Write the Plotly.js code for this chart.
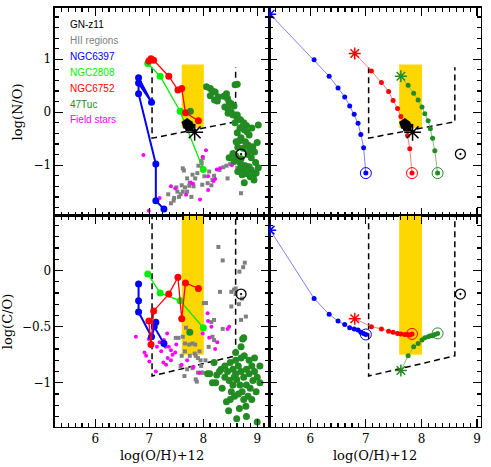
<!DOCTYPE html>
<html>
<head>
<meta charset="utf-8">
<script src="https://cdn.plot.ly/plotly-3.0.1.min.js"></script>
<style>
  body { margin: 0; background: white; }
  #plotDiv { width: 491px; height: 467px; }
</style>
</head>
<body>
<div id="plotDiv"></div>
<script>
// ---- observed clusters (left panels) ----
var n6397_oh_top = [6.80, 7.04, 6.80, 6.80, 7.12, 7.12, 7.27];
var n6397_no = [0.55, 0.19, 0.65, 0.35, -0.98, -1.67, -1.83];
var n6397_oh_bot = [6.80, 6.80, 6.80, 7.04, 7.12, 7.09, 7.27];
var n6397_co = [-0.12, -0.27, -0.37, -0.59, -0.46, -0.50, -0.65];

var n2808_oh = [6.97, 7.20, 7.57, 8.00];
var n2808_no = [0.92, 0.68, 0.02, -1.08];
var n2808_co = [-0.03, -0.20, -0.27, -0.51];

var n6752_oh = [6.99, 7.03, 7.08, 7.36, 7.53, 7.60, 7.67, 7.91];
var n6752_no = [0.97, 1.01, 0.98, 0.68, 0.42, 0.45, -0.01, -0.16];
var n6752_co = [-0.45, -0.66, -0.36, -0.21, -0.06, -0.43, -0.11, -0.16];

var tuc_oh_top = [7.76, 8.06, 8.13, 8.17, 8.13, 8.22, 8.28, 8.26, 8.21, 8.43, 8.38, 8.45, 8.59, 8.63, 8.48, 8.52,
  8.57, 8.40, 8.46, 8.52, 8.46, 8.55, 8.63, 8.63, 8.59, 8.69, 8.72, 8.76, 8.63, 8.81, 8.85, 8.67, 8.70, 8.78, 8.61,
  9.02, 9.00, 8.75, 8.80, 8.68, 8.90, 8.83, 8.92, 8.74, 8.64, 8.86, 8.95, 8.48, 8.57, 8.67, 8.72, 8.78, 8.85, 8.89,
  8.76, 8.81, 8.93, 8.94, 8.76, 8.69, 8.89, 8.83, 8.60, 8.70, 8.97, 9.02, 8.87, 8.98, 8.64, 8.72, 8.55];
var tuc_no = [0.02, 0.48, 0.45, 0.40, 0.31, 0.38, 0.29, 0.21, 0.23, 0.35, 0.30, 0.26, 0.52, 0.53, 0.19, 0.16,
  0.12, 0.10, 0.05, 0.00, -0.02, -0.05, -0.05, -0.11, -0.20, -0.14, -0.28, -0.33, -0.39, -0.37, -0.43, -0.54, -0.48, -0.56, -0.56,
  -0.24, -0.57, -0.20, -0.25, -0.30, -0.30, -0.62, -0.65, -0.68, -0.66, -0.72, -0.75, -0.86, -0.92, -0.94, -1.00, -1.01, -1.03, -1.09,
  -1.09, -1.16, -1.20, -1.28, -1.33, -1.05, -0.86, -0.80, -0.82, -0.88, -0.95, -1.05, -1.22, -1.15, -1.12, -1.18, -0.78];

var tuc_oh_bot = [7.75, 8.73, 8.60, 8.75, 8.20, 8.08, 8.12, 8.23, 8.17, 8.30, 8.45, 8.76, 8.85, 8.43, 8.50, 8.79,
  8.62, 9.00, 8.67, 8.40, 8.50, 8.55, 8.60, 8.65, 8.70, 8.75, 8.80, 8.85, 8.90, 8.95, 9.00, 9.05, 8.48, 8.55,
  8.62, 8.68, 8.72, 8.80, 8.87, 8.92, 8.98, 8.52, 8.58, 8.65, 8.75, 8.83, 8.90, 8.40, 8.35, 8.60, 8.70, 8.95,
  9.05, 8.57, 8.33, 8.80, 8.70, 8.25, 8.47];
var tuc_co = [-0.55, -0.61, -0.73, -0.60, -0.82, -0.92, -0.92, -1.00, -1.00, -0.90, -0.90, -0.76, -0.80, -1.17, -1.15, -1.21,
  -1.32, -1.35, -1.23, -0.85, -0.82, -0.88, -0.92, -0.85, -0.90, -0.95, -0.88, -0.92, -0.85, -0.90, -0.95, -1.00, -0.98, -1.02,
  -0.97, -1.02, -1.08, -1.02, -1.05, -0.98, -1.08, -1.08, -1.12, -1.10, -1.15, -1.12, -1.15, -0.95, -1.05, -0.80, -0.78, -0.78,
  -0.85, -0.95, -0.88, -1.30, -0.68, -0.93, -1.25];

var hii_oh_top = [7.62, 7.64, 7.91, 7.96, 7.99, 7.97, 7.89, 8.02, 8.11, 8.17, 8.08, 7.98, 7.74, 7.62, 7.46, 7.45,
  7.80, 7.70, 7.85, 7.75, 7.60, 7.66, 7.52, 7.58, 7.70, 7.55, 7.35, 7.50, 7.82, 8.20, 8.30, 8.37, 8.43, 8.50,
  8.57, 8.62, 8.68, 8.70, 8.15, 7.40, 7.78, 8.45, 8.63];
var hii_no = [-1.06, -1.10, -1.01, -0.92, -0.87, -0.96, -1.15, -1.21, -1.12, -1.28, -1.34, -1.37, -1.39, -1.50, -1.62, -1.67,
  -1.18, -1.25, -1.25, -1.33, -1.38, -1.42, -1.50, -1.55, -1.50, -1.60, -1.55, -1.42, -1.40, -1.20, -1.09, -1.04, -1.01, -0.98,
  -0.96, -0.93, -0.98, -1.53, -1.38, -1.72, -1.60, -1.25, -1.05];

var hii_oh_bot = [8.28, 8.36, 8.77, 8.67, 8.74, 8.31, 8.52, 8.57, 8.60, 8.52, 8.70, 8.79, 8.05, 8.01, 8.15, 8.20,
  8.36, 8.17, 8.20, 8.10, 7.86, 7.96, 7.99, 7.88, 7.90, 8.04, 7.68, 7.49, 7.54, 7.62, 7.66, 7.74, 7.80, 7.85,
  7.60, 7.66, 7.75, 7.84, 7.93, 7.95, 7.80, 7.70, 7.65, 7.86, 7.90, 7.96, 7.58, 8.66, 8.72, 8.60];
var hii_co = [0.21, 0.09, 0.07, -0.01, 0.03, -0.19, -0.19, -0.17, -0.16, -0.32, -0.44, -0.41, -0.29, -0.29, -0.46, -0.44,
  -0.52, -0.59, -0.62, -0.68, -0.76, -0.85, -0.91, -0.99, -0.78, -0.80, -0.51, -0.60, -0.60, -0.59, -0.65, -0.66, -0.65, -0.66,
  -0.76, -0.72, -0.76, -0.74, -0.72, -0.80, -0.87, -0.88, -0.94, -0.97, -0.91, -0.91, -0.85, -0.30, -0.25, -0.21];

var field_oh_top = [6.89, 8.05, 7.99, 7.98, 8.25, 8.53, 8.09, 8.19, 8.22, 7.81, 7.77, 8.09, 7.40, 7.68, 7.94, 7.19,
  6.99, 7.48, 8.31];
var field_no = [-0.81, -0.72, -0.84, -1.04, -1.08, -1.00, -1.21, -1.30, -1.26, -1.35, -1.33, -1.47, -1.40, -1.56, -1.65, -1.62,
  -1.86, -1.44, -1.06];

var field_oh_bot = [6.75, 6.99, 7.33, 7.27, 7.19, 7.30, 7.36, 7.40, 7.43, 7.48, 7.34, 6.94, 6.91, 7.00, 7.14, 7.12,
  7.26, 7.31, 7.40, 8.08, 8.09, 8.15, 8.11, 7.99, 8.26, 8.48, 8.45, 8.22, 7.93, 7.70, 7.60, 7.82, 7.50, 7.22];
var field_co = [-0.59, -0.61, -0.56, -0.62, -0.64, -0.68, -0.68, -0.71, -0.75, -0.73, -0.78, -0.76, -0.73, -0.81, -0.68, -0.90,
  -0.82, -0.84, -0.80, -0.38, -0.45, -0.50, -0.60, -0.56, -0.64, -0.50, -0.52, -0.70, -0.91, -0.80, -0.84, -0.86, -0.66, -0.72];

// GN-z11 and Sun
var gnz_blob_oh = [7.70, 7.74];
var gnz_blob_no = [-0.22, -0.27];
var gnz_star_oh = [7.84];
var gnz_star_no = [-0.38];
var sun_oh = [8.70];
var sun_no = [-0.79];
var sun_co = [-0.21];

// ---- model tracks (right panels) ----
var trk_blue_oh = [5.28, 6.07, 6.34, 6.50, 6.62, 6.71, 6.79, 6.86, 6.91, 6.96, 7.00];
var trk_blue_no = [1.85, 0.99, 0.68, 0.46, 0.29, 0.12, -0.04, -0.21, -0.42, -0.67, -1.15];
var trk_blue_co = [0.36, -0.25, -0.39, -0.45, -0.48, -0.51, -0.52, -0.53, -0.55, -0.56, -0.57];

var trk_red_oh = [6.80, 7.10, 7.28, 7.41, 7.49, 7.57, 7.63, 7.70, 7.75, 7.79, 7.83];
var trk_red_no = [1.11, 0.78, 0.56, 0.39, 0.22, 0.07, -0.08, -0.25, -0.44, -0.69, -1.15];
var trk_red_co = [-0.43, -0.50, -0.52, -0.54, -0.55, -0.56, -0.565, -0.57, -0.57, -0.575, -0.565];

var trk_green_oh = [7.63, 7.76, 7.86, 7.94, 8.01, 8.06, 8.12, 8.16, 8.20, 8.24, 8.29];
var trk_green_no = [0.68, 0.51, 0.36, 0.23, 0.10, -0.03, -0.16, -0.31, -0.49, -0.73, -1.15];
var trk_green_co = [-0.89, -0.76, -0.68, -0.65, -0.62, -0.60, -0.59, -0.58, -0.58, -0.57, -0.56];

// GN-z11 constraints: gold band and dashed region
var band_oh = [7.6, 8.01];
var band_no = [-0.3, 0.9];
var band_co = [-0.75, 0.6];
var box_oh = [7.05, 7.05, 8.6, 8.6];
var box_no = [0.85, -0.49, -0.18, 0.85];
var box_co = [0.6, -0.94, -0.76, 0.6];

var legendNames = ['GN-z11', 'HII regions', 'NGC6397', 'NGC2808', 'NGC6752', '47Tuc', 'Field stars'];
var legendColors = ['black', '#808080', '#0000ff', '#00ee00', '#ff0000', '#228b22', '#ff00ff'];

var data = [];

function pts(x, y, ax, color, size, symbol, lw) {
    data.push({
        x: x, y: y, xaxis: ax[0], yaxis: ax[1],
        mode: 'markers', hoverinfo: 'skip',
        marker: { color: color, size: size, symbol: symbol || 'circle', line: { color: color, width: lw || 0 } }
    });
}

function path(x, y, ax, color, size, lw) {
    data.push({
        x: x, y: y, xaxis: ax[0], yaxis: ax[1],
        mode: size ? 'lines+markers' : 'lines', hoverinfo: 'skip',
        line: { color: color, width: lw },
        marker: { color: color, size: size }
    });
}

function dashbox(x, y, ax) {
    data.push({
        x: x, y: y, xaxis: ax[0], yaxis: ax[1],
        mode: 'lines', hoverinfo: 'skip',
        line: { color: 'black', width: 1.5, dash: '6px,4px' }
    });
}

function track(x, y, ax, color, lineColor) {
    path(x, y, ax, lineColor, 0, 1);
    pts(x.slice(1, -1), y.slice(1, -1), ax, color, 5);
    pts(x.slice(0, 1), y.slice(0, 1), ax, color, 10, 'asterisk-open', 1.5);
    pts(x.slice(-1), y.slice(-1), ax, color, 11, 'circle-open', 1);
    pts(x.slice(-1), y.slice(-1), ax, color, 5);
}

var TL = ['x', 'y'], TR = ['x2', 'y2'], BL = ['x3', 'y3'], BR = ['x4', 'y4'];

// top-left
dashbox(box_oh, box_no, TL);
pts(hii_oh_top, hii_no, TL, '#808080', 4, 'square');
pts(field_oh_top, field_no, TL, '#ff00ff', 4);
pts(tuc_oh_top, tuc_no, TL, '#228b22', 7);
path(n6397_oh_top, n6397_no, TL, '#0000ff', 7, 2);
path(n2808_oh, n2808_no, TL, '#00ee00', 7, 1.3);
path(n6752_oh, n6752_no, TL, '#ff0000', 7, 1.3);
pts(sun_oh, sun_no, TL, 'black', 10, 'circle-open-dot', 1.3);
pts(gnz_blob_oh, gnz_blob_no, TL, 'black', 12, 'pentagon');
pts(gnz_star_oh, gnz_star_no, TL, 'black', 14, 'asterisk-open', 1.5);

// top-right
dashbox(box_oh, box_no, TR);
track(trk_blue_oh, trk_blue_no, TR, '#0000ff', '#7f7fff');
track(trk_red_oh, trk_red_no, TR, '#ff0000', '#ff7f7f');
track(trk_green_oh, trk_green_no, TR, '#228b22', '#7fbf7f');
pts(sun_oh, sun_no, TR, 'black', 10, 'circle-open-dot', 1.3);
pts(gnz_blob_oh, gnz_blob_no, TR, 'black', 12, 'pentagon');
pts(gnz_star_oh, gnz_star_no, TR, 'black', 14, 'asterisk-open', 1.5);

// bottom-left
dashbox(box_oh, box_co, BL);
pts(hii_oh_bot, hii_co, BL, '#808080', 4, 'square');
pts(field_oh_bot, field_co, BL, '#ff00ff', 4);
pts(tuc_oh_bot, tuc_co, BL, '#228b22', 7);
path(n6397_oh_bot, n6397_co, BL, '#0000ff', 7, 2);
path(n2808_oh, n2808_co, BL, '#00ee00', 7, 1.3);
path(n6752_oh, n6752_co, BL, '#ff0000', 7, 1.3);
pts(sun_oh, sun_co, BL, 'black', 10, 'circle-open-dot', 1.3);

// bottom-right
dashbox(box_oh, box_co, BR);
track(trk_blue_oh, trk_blue_co, BR, '#0000ff', '#7f7fff');
track(trk_red_oh, trk_red_co, BR, '#ff0000', '#ff7f7f');
track(trk_green_oh, trk_green_co, BR, '#228b22', '#7fbf7f');
pts(sun_oh, sun_co, BR, 'black', 10, 'circle-open-dot', 1.3);

function band(xr, yr, yref) {
    return { type: 'rect', xref: xr, yref: yref, x0: band_oh[0], x1: band_oh[1],
        y0: (yref == 'y' || yref == 'y2') ? band_no[0] : band_co[0],
        y1: (yref == 'y' || yref == 'y2') ? band_no[1] : band_co[1],
        fillcolor: '#ffd700', line: { width: 0 }, layer: 'below' };
}

var tickFont = { family: 'DejaVu Serif', size: 12, color: 'black' };

function axis(domain, range, anchor, opts) {
    var a = {
        domain: domain, range: range, anchor: anchor,
        showline: true, mirror: 'allticks', linecolor: 'black', linewidth: 1.5,
        ticks: 'inside', ticklen: 8, tickwidth: 1.2, tickcolor: 'black',
        showgrid: false, zeroline: false, tickfont: tickFont,
        minor: { ticks: 'inside', ticklen: 4, tickwidth: 1, tickcolor: 'black', showgrid: false }
    };
    for (var k in opts) a[k] = opts[k];
    return a;
}

var xL = [0.112, 0.548], xR = [0.548, 0.9796];
var yT = [0.5375, 0.983], yB = [0.0857, 0.5375];
var rxL = [5.25, 9.22], rxR = [5.26, 9.07];
var ryT = [-1.96, 1.97], ryB = [-1.394, 0.486];
var xTitle = { text: 'log(O/H)+12', font: { family: 'DejaVu Serif', size: 13, color: 'black' }, standoff: 6 };

var layout = {
    width: 491, height: 467,
    margin: { l: 0, r: 0, t: 0, b: 0 },
    paper_bgcolor: 'white', plot_bgcolor: 'white',
    showlegend: false,
    xaxis: axis(xL, rxL, 'y', { dtick: 1, minor: { dtick: 0.125, ticks: 'inside', ticklen: 4, tickcolor: 'black' }, showticklabels: false }),
    xaxis2: axis(xR, rxR, 'y2', { dtick: 1, minor: { dtick: 0.125, ticks: 'inside', ticklen: 4, tickcolor: 'black' }, showticklabels: false }),
    xaxis3: axis(xL, rxL, 'y3', { dtick: 1, minor: { dtick: 0.125, ticks: 'inside', ticklen: 4, tickcolor: 'black' }, title: xTitle }),
    xaxis4: axis(xR, rxR, 'y4', { dtick: 1, minor: { dtick: 0.125, ticks: 'inside', ticklen: 4, tickcolor: 'black' }, title: xTitle }),
    yaxis: axis(yT, ryT, 'x', { dtick: 1, minor: { dtick: 0.2, ticks: 'inside', ticklen: 4, tickcolor: 'black' },
        title: { text: 'log(N/O)', font: { family: 'DejaVu Serif', size: 13, color: 'black' }, standoff: 8 } }),
    yaxis2: axis(yT, ryT, 'x2', { dtick: 1, minor: { dtick: 0.2, ticks: 'inside', ticklen: 4, tickcolor: 'black' }, showticklabels: false }),
    yaxis3: axis(yB, ryB, 'x3', { dtick: 0.5, minor: { dtick: 0.1, ticks: 'inside', ticklen: 4, tickcolor: 'black' },
        title: { text: 'log(C/O)', font: { family: 'DejaVu Serif', size: 13, color: 'black' }, standoff: 8 } }),
    yaxis4: axis(yB, ryB, 'x4', { dtick: 0.5, minor: { dtick: 0.1, ticks: 'inside', ticklen: 4, tickcolor: 'black' }, showticklabels: false }),
    shapes: [band('x', 'y', 'y'), band('x2', 'y2', 'y2'), band('x3', 'y3', 'y3'), band('x4', 'y4', 'y4')],
    annotations: legendNames.map(function (t, i) {
        return { text: t, xref: 'x domain', yref: 'y domain', x: 0.06, y: 0.918 - i * 0.076,
            xanchor: 'left', yanchor: 'middle', showarrow: false,
            font: { family: 'Liberation Sans', size: 10, color: legendColors[i] } };
    })
};

Plotly.newPlot('plotDiv', data, layout, { staticPlot: true });
</script>
</body>
</html>
